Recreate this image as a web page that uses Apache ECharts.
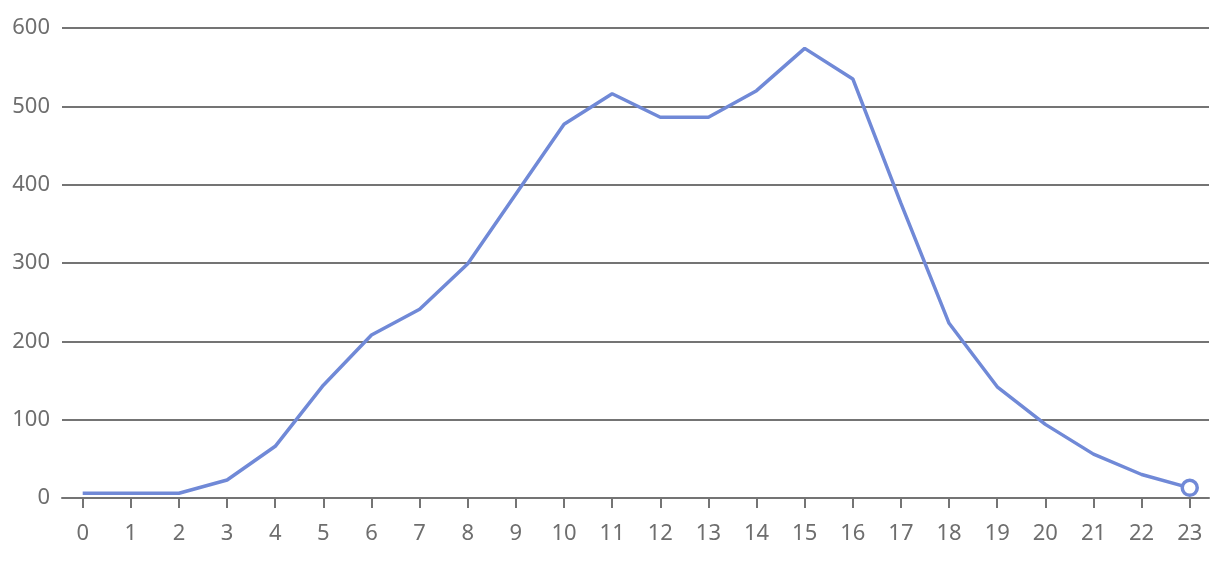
<!DOCTYPE html>
<html>
<head>
<meta charset="utf-8">
<script src="https://cdn.jsdelivr.net/npm/echarts@6/dist/echarts.min.js"></script>
<style>
	html, body { margin: 0; padding: 0; background: #fff; }
	#chart { width: 1220px; height: 566px; }
</style>
</head>
<body>
<div id="chart"></div>
<script>
// hours on the x axis
const hours = [0, 1, 2, 3, 4, 5, 6, 7, 8, 9, 10, 11, 12, 13, 14, 15, 16, 17, 18, 19, 20, 21, 22, 23];
const values = [6, 6, 6, 23, 66, 144, 208, 241, 299, 388, 477, 516, 486, 486, 520, 574, 535, 376, 223, 142, 94, 56, 30, 13];
const yTicks = [0, 100, 200, 300, 400, 500, 600];

const lineColor = "#7089d7";
const axisColor = "#747474";
const textColor = "#6e6e6e";

let chart = echarts.init(document.getElementById("chart"));
let points = hours.map((h, i) => [h, values[i]]);
let last = points.length - 1;

chart.setOption({
	animation: false,
	grid: {
		left: 62,
		right: 11,
		top: 28,
		bottom: 68
	},
	xAxis: {
		type: "value",
		min: -0.43,
		max: 23.4,
		splitLine: { show: false },
		axisLine: { lineStyle: { color: axisColor, width: 2 } },
		axisTick: {
			show: true,
			length: 10,
			customValues: hours,
			lineStyle: { color: axisColor, width: 2 }
		},
		axisLabel: {
			customValues: hours,
			margin: 25,
			color: textColor,
			fontSize: 22,
			fontFamily: "Noto Sans"
		}
	},
	yAxis: {
		type: "value",
		min: yTicks[0],
		max: yTicks[yTicks.length - 1],
		interval: 100,
		axisLine: { show: false },
		axisTick: { show: false },
		splitLine: { lineStyle: { color: axisColor, width: 2 } },
		axisLabel: {
			margin: 12,
			color: textColor,
			fontSize: 22,
			fontFamily: "Noto Sans"
		}
	},
	series: [
		{
			type: "line",
			data: points,
			symbol: "circle",
			showAllSymbol: true,
			symbolSize: (v, p) => (p.dataIndex === last ? 15 : 0),
			itemStyle: {
				color: "#fff",
				borderColor: lineColor,
				borderWidth: 3.5
			},
			lineStyle: { color: lineColor, width: 3.5 }
		}
	]
});
</script>
</body>
</html>
